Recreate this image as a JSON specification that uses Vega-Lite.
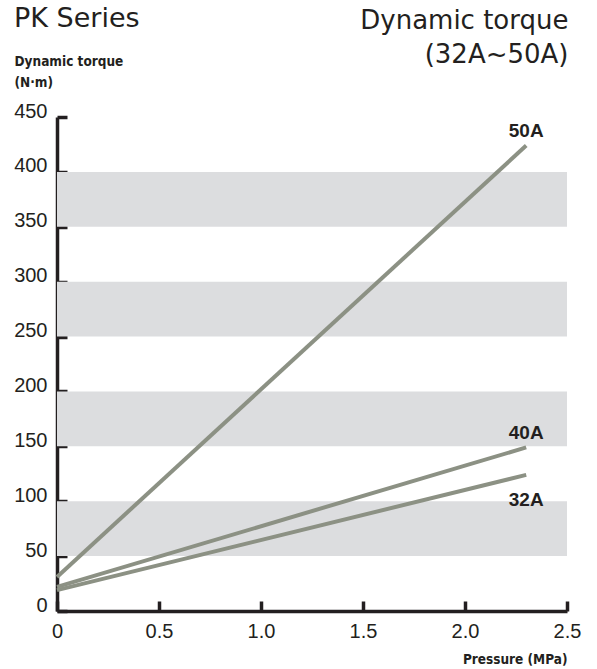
{
  "$schema": "https://vega.github.io/schema/vega-lite/v6.json",
  "width": 510,
  "height": 494,
  "autosize": "none",
  "padding": {"left": 57, "top": 117, "right": 30, "bottom": 58},
  "background": "white",
  "title": {
    "text": "PK Series",
    "anchor": "start",
    "frame": "group",
    "font": "DejaVu Sans",
    "fontSize": 27,
    "fontWeight": "normal",
    "color": "#231f20",
    "dx": -43,
    "dy": 30
  },
  "config": {
    "view": {"stroke": null},
    "axis": {
      "grid": false,
      "zindex": 1,
      "domainColor": "#231f20",
      "domainWidth": 3.5,
      "tickColor": "#231f20",
      "tickWidth": 3.5,
      "tickSize": -10,
      "labelFont": "Liberation Sans",
      "labelFontSize": 20,
      "labelColor": "#231f20",
      "labelPadding": 20,
      "labelFlush": false,
      "labelOverlap": false,
      "titleColor": "#231f20",
      "titleFont": "Liberation Sans Narrow, DejaVu Sans Condensed",
      "titleFontWeight": "bold",
      "titleFontSize": 13.5
    },
    "axisY": {
      "labelOffset": -6,
      "titleAngle": 0,
      "titleAlign": "left",
      "titleBaseline": "alphabetic",
      "titleLineHeight": 21,
      "titleX": -43,
      "titleY": -52
    }
  },
  "resolve": {"axis": {"x": "independent"}},
  "layer": [
    {
      "data": {"values": [
        {"lo": 50, "hi": 100},
        {"lo": 150, "hi": 200},
        {"lo": 250, "hi": 300},
        {"lo": 350, "hi": 400}
      ]},
      "mark": {"type": "rect", "color": "#dcdddf"},
      "encoding": {
        "y": {
          "field": "lo", "type": "quantitative",
          "scale": {"domain": [0, 450], "nice": false},
          "axis": {"values": [0, 50, 100, 150, 200, 250, 300, 350, 400, 450], "title": ["Dynamic torque", "(N·m)"], "titleAnchor": null}
        },
        "y2": {"field": "hi"}
      }
    },
    {
      "data": {"values": [
        {"series": "50A", "pressure": 0, "torque": 31},
        {"series": "50A", "pressure": 2.3, "torque": 424},
        {"series": "40A", "pressure": 0, "torque": 22},
        {"series": "40A", "pressure": 2.3, "torque": 149},
        {"series": "32A", "pressure": 0, "torque": 19},
        {"series": "32A", "pressure": 2.3, "torque": 124}
      ]},
      "mark": {"type": "line", "strokeWidth": 4, "color": "#8c9184"},
      "encoding": {
        "detail": {"field": "series"},
        "x": {
          "field": "pressure", "type": "quantitative",
          "scale": {"domain": [0, 2.5], "nice": false},
          "axis": {
            "values": [0, 0.5, 1, 1.5, 2, 2.5],
            "labelExpr": "datum.value == 0 ? '0' : format(datum.value, '.1f')",
            "title": "Pressure (MPa)",
            "titleAlign": "right",
            "titleAnchor": null,
            "titleBaseline": "alphabetic",
            "titleX": 510,
            "titleY": 52
          }
        },
        "y": {
          "field": "torque", "type": "quantitative",
          "scale": {"domain": [0, 450], "nice": false},
          "axis": {"values": [0, 50, 100, 150, 200, 250, 300, 350, 400, 450], "title": ["Dynamic torque", "(N·m)"], "titleAnchor": null}
        }
      }
    },
    {
      "data": {"values": [
        {"series": "50A", "px": 2.3, "py": 437},
        {"series": "40A", "px": 2.3, "py": 162},
        {"series": "32A", "px": 2.3, "py": 101}
      ]},
      "mark": {"type": "text", "font": "Liberation Sans", "fontSize": 19, "fontWeight": "bold", "color": "#231f20", "baseline": "middle", "align": "center"},
      "encoding": {
        "text": {"field": "series"},
        "x": {
          "field": "px", "type": "quantitative",
          "axis": {
            "orient": "top",
            "domain": false,
            "ticks": false,
            "labels": false,
            "title": ["Dynamic torque", "(32A~50A)"],
            "titleFont": "DejaVu Sans",
            "titleFontWeight": "normal",
            "titleFontSize": 26,
            "titleLineHeight": 34,
            "titleAlign": "right",
            "titleAnchor": null,
            "titleAngle": 0,
            "titleBaseline": "alphabetic",
            "titleX": 511,
            "titleY": -89
          }
        },
        "y": {
          "field": "py", "type": "quantitative",
          "axis": {"values": [0, 50, 100, 150, 200, 250, 300, 350, 400, 450], "title": ["Dynamic torque", "(N·m)"], "titleAnchor": null}
        }
      }
    }
  ]
}
